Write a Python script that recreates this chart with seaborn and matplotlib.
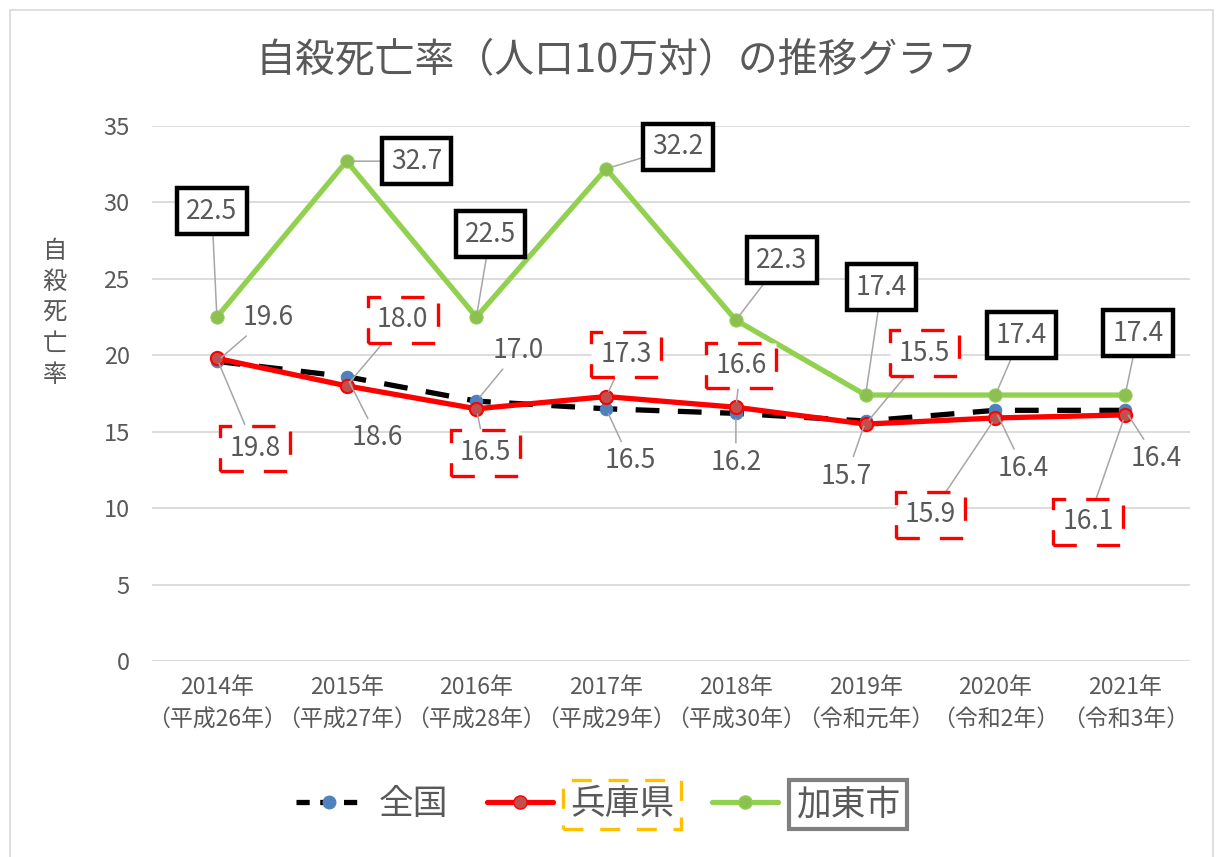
import matplotlib
matplotlib.use("Agg")
import matplotlib.pyplot as plt
from matplotlib.lines import Line2D
from matplotlib.patches import Rectangle
import seaborn as sns
import pandas as pd

# ---- data ----
years = ["2014年\n（平成26年）", "2015年\n（平成27年）", "2016年\n（平成28年）", "2017年\n（平成29年）",
         "2018年\n（平成30年）", "2019年\n（令和元年）", "2020年\n（令和2年）", "2021年\n（令和3年）"]
national = [19.6, 18.6, 17.0, 16.5, 16.2, 15.7, 16.4, 16.4]
hyogo = [19.8, 18.0, 16.5, 17.3, 16.6, 15.5, 15.9, 16.1]
kato = [22.5, 32.7, 22.5, 32.2, 22.3, 17.4, 17.4, 17.4]
series_names = ["全国", "兵庫県", "加東市"]
yticks = [0, 5, 10, 15, 20, 25, 30, 35]
title = "自殺死亡率（人口10万対）の推移グラフ"
ylabel = "自殺死亡率"

# ---- label offsets (pixels) ----
off_nat = [(51, 44), (31, -61), (42, 51), (24, -52), (0, -49), (-19, -55), (28, -58), (31, -48)]
off_hyo = [(38, -90), (56, 66), (9, -44), (20, 42), (5, 42), (59, 71), (-65, -97), (-37, -107)]
off_kat = [(-5, 106), (70, 0), (14, 83), (72, 22), (46, 60), (16, 108), (26, 60), (13, 62)]

sns.set_theme(style="white")
plt.rcParams["font.family"] = ["Noto Sans CJK JP", "DejaVu Sans"]
TXT = "#595959"

fig = plt.figure(figsize=(12.2, 8.57), dpi=100)
ax = fig.add_axes([152 / 1220, 1 - 661 / 857, (1190 - 152) / 1220, (661 - 126) / 857])

xs = list(range(len(years)))
df = pd.DataFrame({"x": xs, "全国": national, "兵庫県": hyogo, "加東市": kato})

GREEN = "#92D050"
RED = "#FF0000"

sns.lineplot(data=df, x="x", y="全国", ax=ax, color="black", linewidth=3.8,
             marker="o", markersize=9, markerfacecolor="#4F81BD", markeredgecolor="#4F81BD", zorder=3)
ax.lines[-1].set_dashes((4.5, 3.5))
sns.lineplot(data=df, x="x", y="兵庫県", ax=ax, color=RED, linewidth=3.8,
             marker="o", markersize=9.5, markerfacecolor="#C0504D", markeredgecolor=RED,
             markeredgewidth=1.5, zorder=4)
sns.lineplot(data=df, x="x", y="加東市", ax=ax, color=GREEN, linewidth=3.8,
             marker="o", markersize=9.5, markerfacecolor="#8CC152", markeredgecolor=GREEN, zorder=5)

ax.set_xlim(-0.5, len(years) - 0.5)
ax.set_ylim(0, 35)
ax.set_yticks(yticks)
ax.set_xticks(xs)
ax.set_xticklabels(years, fontsize=16.5, color=TXT, linespacing=1.5)
ax.set_yticklabels([str(v) for v in yticks], fontsize=17, color=TXT)
ax.tick_params(axis="y", length=0, pad=16)
ax.tick_params(axis="x", length=0, pad=11)
ax.set_xlabel("")
ax.set_ylabel("")
ax.grid(axis="y", color="#d9d9d9", linewidth=1.3)
ax.grid(axis="x", visible=False)
for s in ax.spines.values():
    s.set_visible(False)

lead = dict(arrowstyle="-", color="#a6a6a6", lw=1.1, shrinkA=0, shrinkB=4)
FS = 19

for i, v in enumerate(national):
    ax.annotate(f"{v:.1f}", xy=(i, v), xytext=off_nat[i], textcoords="offset pixels",
                ha="center", va="center", fontsize=FS, color=TXT, zorder=8,
                arrowprops=dict(lead, shrinkA=2), annotation_clip=False)

for i, v in enumerate(hyogo):
    ax.annotate(f"{v:.1f}", xy=(i, v), xytext=off_hyo[i], textcoords="offset pixels",
                ha="center", va="center", fontsize=FS, color=TXT, zorder=8,
                bbox=dict(boxstyle="square,pad=0.35", fc="white", ec=RED, lw=2.4,
                          ls=(0, (7, 6))),
                arrowprops=lead, annotation_clip=False)

for i, v in enumerate(kato):
    ax.annotate(f"{v:.1f}", xy=(i, v), xytext=off_kat[i], textcoords="offset pixels",
                ha="center", va="center", fontsize=FS, color=TXT, zorder=8,
                bbox=dict(boxstyle="square,pad=0.35", fc="white", ec="black", lw=3.2),
                arrowprops=lead, annotation_clip=False)

# title & y label
fig.text(0.505, 0.930, title, ha="center", va="center", fontsize=28.7, color=TXT)
fig.text(0.045, 0.635, "\n".join(ylabel), ha="center", va="center", fontsize=17.5,
         color=TXT, linespacing=1.25)

# legend
handles = [
    Line2D([], [], color="black", lw=3.8, dashes=(2.5, 2), marker="o", markersize=9,
           markerfacecolor="#4F81BD", markeredgecolor="#4F81BD"),
    Line2D([], [], color=RED, lw=3.8, marker="o", markersize=9.5,
           markerfacecolor="#C0504D", markeredgecolor=RED),
    Line2D([], [], color=GREEN, lw=3.8, marker="o", markersize=9.5,
           markerfacecolor="#8CC152", markeredgecolor=GREEN),
]
leg = fig.legend(handles, series_names, loc="center", bbox_to_anchor=(0.49, 0.061),
                 ncol=3, frameon=False, fontsize=25, handlelength=1.9,
                 columnspacing=1.1, handletextpad=0.5)
for t in leg.get_texts():
    t.set_color(TXT)
leg.get_texts()[1].set_bbox(dict(boxstyle="square,pad=0.2", fc="none", ec="#FFC000",
                                 lw=2.4, ls=(0, (6, 5))))
leg.get_texts()[2].set_bbox(dict(boxstyle="square,pad=0.2", fc="none", ec="#808080", lw=3))

# outer border
fig.patches.append(Rectangle((10 / 1220, -0.02), 1203 / 1220, 1 - 10 / 857 + 0.02,
                             transform=fig.transFigure, fill=False, ec="#d9d9d9", lw=1.2))

fig.savefig("out.png", dpi=100)
